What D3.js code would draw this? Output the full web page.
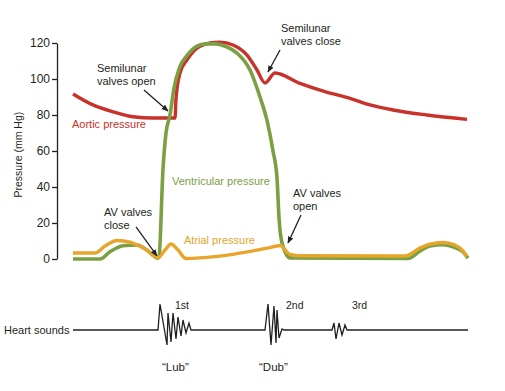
<!DOCTYPE html>
<html>
<head>
<meta charset="utf-8">
<script src="https://cdn.jsdelivr.net/npm/d3@7"></script>
<style>
  html, body { margin: 0; padding: 0; background: #fff; }
  svg { display: block; font-family: "Liberation Sans", Arial, Helvetica, sans-serif; }
</style>
</head>
<body>
<svg id="chart" width="505" height="391"></svg>
<script>
// ---- data (time in ms, pressure in mm Hg) ----
const aorticT = [2, 42, 82, 122, 162, 206, 208, 216, 230, 250, 276, 296, 322, 350, 370, 386, 406, 456, 506, 556, 596, 642, 710, 790];
const aorticP = [91.7, 85.6, 81.8, 79, 78.3, 78.3, 89, 103.3, 110.6, 117.2, 120, 120.5, 118.9, 113.3, 105, 97.8, 103.3, 97.6, 93, 89.3, 85.6, 82.8, 80, 77.6];

const ventT = [2, 56, 76, 102, 130, 150, 172, 174, 182, 188, 196, 204, 216, 230, 248, 268, 288, 308, 330, 356, 376, 390, 402, 410, 414, 420, 436, 672, 696, 716, 742, 766, 782, 792];
const ventP = [0, 0, 4, 7.4, 7.8, 5, 0.5, 1, 50, 70, 80, 95, 107, 113, 118, 119.5, 119.5, 118, 114.4, 105, 90, 77, 60, 45, 23, 9, 0.6, 0.3, 4.4, 7.2, 8, 6.4, 3.9, 0.5];

const atrialT = [2, 46, 66, 90, 116, 146, 172, 186, 198, 212, 228, 256, 322, 390, 416, 436, 456, 666, 696, 716, 742, 766, 780, 790];
const atrialP = [3.3, 3.3, 7.2, 10.3, 9.4, 5.6, 0.8, 5, 8.3, 5, 0.3, 0.6, 2.6, 6, 7.5, 2.5, 1.8, 1.7, 6.1, 8.3, 9.2, 7.8, 5, 1.5];

// heart sound trace (time ms, relative amplitude)
const soundT = [2, 172, 176, 190, 192, 198, 202, 208, 212, 218, 222, 228, 234, 238, 386, 392, 398, 404, 408, 410, 414, 420, 424, 520, 524, 528, 534, 540, 546, 550, 792];
const soundA = [0, 0, 26, -15, 17, -12, 17, -9, 13, -6, 10, -3, 7, 0, 0, 26, -15, 24, -13, 20, -8, 1, 0, 0, 7, -9, 7, -5, 5, 0, 0];

const yTicks = [0, 20, 40, 60, 80, 100, 120];

const seriesLabels = [
  { text: "Aortic pressure", t: 0, p: 75, color: "#c8322b" },
  { text: "Ventricular pressure", t: 200, p: 43.3, color: "#7ba043" },
  { text: "Atrial pressure", t: 224, p: 10.6, color: "#e3a32b" }
];

const notes = [
  { lines: ["Semilunar", "valves open"], t: 50, p: 106.1, from: [144, 93.9], to: [192, 82.2] },
  { lines: ["Semilunar", "valves close"], t: 418, p: 128.3, from: [416, 116.1], to: [392, 103.9] },
  { lines: ["AV valves", "close"], t: 64, p: 26.1, from: [128, 17.8], to: [170, 1.7] },
  { lines: ["AV valves", "open"], t: 442, p: 36.7, from: [458, 24.4], to: [432, 8.9] }
];

const soundLabels = [
  { text: "1st", t: 206, row: "top" },
  { text: "2nd", t: 428, row: "top" },
  { text: "3rd", t: 560, row: "top" },
  { text: "\u201cLub\u201d", t: 180, row: "bottom" },
  { text: "\u201cDub\u201d", t: 374, row: "bottom" }
];

// ---- drawing ----
const svg = d3.select("#chart");
const x = d3.scaleLinear().domain([0, 800]).range([72, 472]);
const y = d3.scaleLinear().domain([0, 120]).range([259, 43]);
const ya = d3.scaleLinear().domain([-20, 30]).range([350, 300]);

const ink = "#231f20";

svg.append("defs").append("marker")
  .attr("id", "arrow").attr("viewBox", "0 0 10 10")
  .attr("refX", 9).attr("refY", 5)
  .attr("markerWidth", 7).attr("markerHeight", 7)
  .attr("markerUnits", "userSpaceOnUse")
  .attr("orient", "auto")
  .append("path").attr("d", "M0,1 L10,5 L0,9 Z").attr("fill", ink);

// axis
const axis = d3.axisLeft(y).tickValues(yTicks).tickSize(5).tickSizeOuter(0).tickPadding(2);
const gAxis = svg.append("g").attr("transform", "translate(57,0)").call(axis);
gAxis.selectAll("text").attr("font-size", 12).attr("fill", ink).attr("font-family", "Liberation Sans, Arial, sans-serif");
gAxis.selectAll("line, path").attr("stroke", ink).attr("stroke-width", 1.3);

svg.append("text")
  .attr("transform", `translate(18,${y(58)}) rotate(-90)`)
  .attr("text-anchor", "middle").attr("dominant-baseline", "central")
  .attr("font-size", 10.5).attr("fill", ink)
  .text("Pressure (mm Hg)");

const line = d3.line().x(d => x(d[0])).y(d => y(d[1])).curve(d3.curveMonotoneX);
const zip = (a, b) => a.map((v, i) => [v, b[i]]);

svg.append("path").datum(zip(aorticT, aorticP)).attr("d", line)
  .attr("fill", "none").attr("stroke", "#c8322b").attr("stroke-width", 3.4).attr("stroke-linejoin", "round");
svg.append("path").datum(zip(ventT, ventP)).attr("d", line)
  .attr("fill", "none").attr("stroke", "#7ba043").attr("stroke-width", 3.6).attr("stroke-linejoin", "round");
svg.append("path").datum(zip(atrialT, atrialP)).attr("d", line)
  .attr("fill", "none").attr("stroke", "#e8a52b").attr("stroke-width", 3.4).attr("stroke-linejoin", "round");

// series labels
svg.selectAll(".slab").data(seriesLabels).enter().append("text")
  .attr("x", d => x(d.t)).attr("y", d => y(d.p))
  .attr("dominant-baseline", "central")
  .attr("font-size", 11).attr("fill", d => d.color)
  .text(d => d.text);

// annotations
notes.forEach(n => {
  const tx = svg.append("text").attr("font-size", 11).attr("fill", ink);
  n.lines.forEach((l, i) => {
    tx.append("tspan").attr("x", x(n.t)).attr("y", y(n.p) + i * 13)
      .attr("dominant-baseline", "central").text(l);
  });
  svg.append("line")
    .attr("x1", x(n.from[0])).attr("y1", y(n.from[1]))
    .attr("x2", x(n.to[0])).attr("y2", y(n.to[1]))
    .attr("stroke", ink).attr("stroke-width", 1.3)
    .attr("marker-end", "url(#arrow)");
});

// heart sounds
svg.append("text").attr("x", 4).attr("y", ya(0))
  .attr("dominant-baseline", "central").attr("font-size", 11).attr("fill", ink)
  .text("Heart sounds");

const sLine = d3.line().x(d => x(d[0])).y(d => ya(d[1]));
svg.append("path").datum(zip(soundT, soundA)).attr("d", sLine)
  .attr("fill", "none").attr("stroke", ink).attr("stroke-width", 1.3).attr("stroke-linejoin", "miter");

svg.selectAll(".snd").data(soundLabels).enter().append("text")
  .attr("x", d => x(d.t))
  .attr("y", d => d.row === "top" ? ya(25) : ya(-36.5))
  .attr("dominant-baseline", "central")
  .attr("font-size", d => d.row === "top" ? 10.5 : 11.5).attr("fill", ink)
  .text(d => d.text);
</script>
</body>
</html>
